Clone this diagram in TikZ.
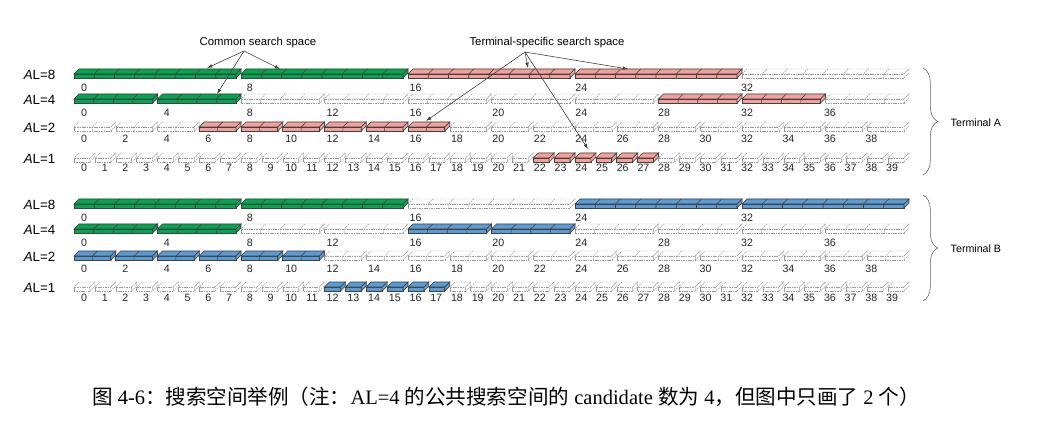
\documentclass[tikz,border=0pt]{standalone}
\usepackage{fontspec}
\setmainfont{Liberation Serif}
\setsansfont{Liberation Sans}
\newfontfamily\cjk{Noto Sans CJK SC}
\usetikzlibrary{arrows.meta,decorations.pathreplacing}

\definecolor{cssgreen}{RGB}{0,166,80}
\definecolor{uepink}{RGB}{242,160,155}
\definecolor{ueblue}{RGB}{91,155,213}

% one CCE group: start unit, length, bottom y, style
\newcommand{\ccegroup}[4]{%
  \pgfmathsetmacro{\cxa}{74+#1*20.875}%
  \pgfmathsetmacro{\cxb}{74+(#1+#2)*20.875}%
  \pgfmathsetmacro{\cw}{(\cxb-5-\cxa)/#2}%
  \draw[#4] (\cxa,#3) rectangle (\cxb-5,#3-4);
  \draw[#4] (\cxa,#3-4) -- (\cxb-5,#3-4) -- (\cxb,#3-9) -- (\cxa+5,#3-9) -- cycle;
  \draw[#4] (\cxb-5,#3) -- (\cxb,#3-5) -- (\cxb,#3-9) -- (\cxb-5,#3-4) -- cycle;
  \ifnum#2>1
    \pgfmathtruncatemacro{\cn}{#2-1}%
    \foreach \k in {1,...,\cn} {
      \draw[#4, fill=none] (\cxa+\k*\cw,#3) -- (\cxa+\k*\cw,#3-4) -- (\cxa+\k*\cw+5,#3-9);
    }
  \fi
}

\begin{document}
\begin{tikzpicture}[x=0.75pt, y=-0.75pt, font=\sffamily\fontsize{8}{9.6}\selectfont]
    \useasboundingbox (0,0) rectangle (1048,438);
    \tikzset{emptycce/.style={draw=black!40, fill=white, line width=0.35pt,
               dash pattern=on 1.2pt off 0.6pt},
             fillcce/.style={draw=black!75, fill=#1, line width=0.4pt},
             annarrow/.style={-{Latex[length=4pt,width=2.6pt]}, black!75, line width=0.45pt},
             termbrace/.style={decorate, decoration={brace, amplitude=11pt}, black!60, line width=0.45pt}}
    % empty rows, unit numbers and AL labels
    \foreach \t/\al/\yb/\yl in {A/8/78/88, A/4/103/113, A/2/131/139, A/1/162/168,
                                B/8/208/218, B/4/233/243, B/2/260/269, B/1/291/298} {
      \foreach \s in {0,\al,...,39} {
        \ccegroup{\s}{\al}{\yb}{emptycce}
        \node[black!85] (n-\t-\al-\s) at (84+20.72*\s,\yl) {\s};
      }
      \node[anchor=east, font=\sffamily\fontsize{10}{12}\selectfont] (al-\t-\al)
        at (60,\yb-3) {\textit{A}L=\al};
    }
    % occupied groups: AL/bottom y/first group/last group/colour
    \foreach \al/\yb/\ga/\gb/\c in {8/78/0/1/cssgreen, 8/78/2/3/uepink,
                                    4/103/0/1/cssgreen, 4/103/7/8/uepink,
                                    2/131/3/8/uepink, 1/162/22/27/uepink,
                                    8/208/0/1/cssgreen, 8/208/3/4/ueblue,
                                    4/233/0/1/cssgreen, 4/233/4/5/ueblue,
                                    2/260/0/5/ueblue, 1/291/12/17/ueblue} {
      \foreach \g in {\ga,...,\gb} {
        \pgfmathtruncatemacro{\s}{\g*\al}
        \ccegroup{\s}{\al}{\yb}{fillcce=\c}
      }
    }
    % annotations
    \node[font=\sffamily\fontsize{8.5}{10}\selectfont] (css) at (258,43) {Common search space};
    \coordinate (css-from) at (244,51);
    \coordinate (css-1) at (207,68);
    \coordinate (css-2) at (280,69);
    \coordinate (css-3) at (217,94);
    \foreach \p in {1,2,3} \draw[annarrow] (css-from) -- (css-\p);
    \node[font=\sffamily\fontsize{8.5}{10}\selectfont] (uss) at (547,43) {Terminal-specific search space};
    \coordinate (uss-from) at (525,52);
    \coordinate (uss-1) at (528,68);
    \coordinate (uss-2) at (628,69);
    \coordinate (uss-3) at (426,121);
    \coordinate (uss-4) at (588,149);
    \foreach \p in {1,2,3,4} \draw[annarrow] (uss-from) -- (uss-\p);
    % terminals
    \coordinate (ta-top) at (923,68);
    \coordinate (ta-bot) at (923,175);
    \draw[termbrace] (ta-top) -- (ta-bot);
    \node[anchor=west] (ta) at (946,123) {Terminal A};
    \coordinate (tb-top) at (923,195);
    \coordinate (tb-bot) at (923,301);
    \draw[termbrace] (tb-top) -- (tb-bot);
    \node[anchor=west] (tb) at (946,249) {Terminal B};
    % caption
    \node[font=\rmfamily\fontsize{15.4}{18}\selectfont] (caption) at (506,397)
      {{\cjk 图} 4-6{\cjk ：搜索空间举例（注：}AL=4 {\cjk 的公共搜索空间的} candidate {\cjk 数为} 4{\cjk ，但图中只画了} 2 {\cjk 个）}};
\end{tikzpicture}
\end{document}
